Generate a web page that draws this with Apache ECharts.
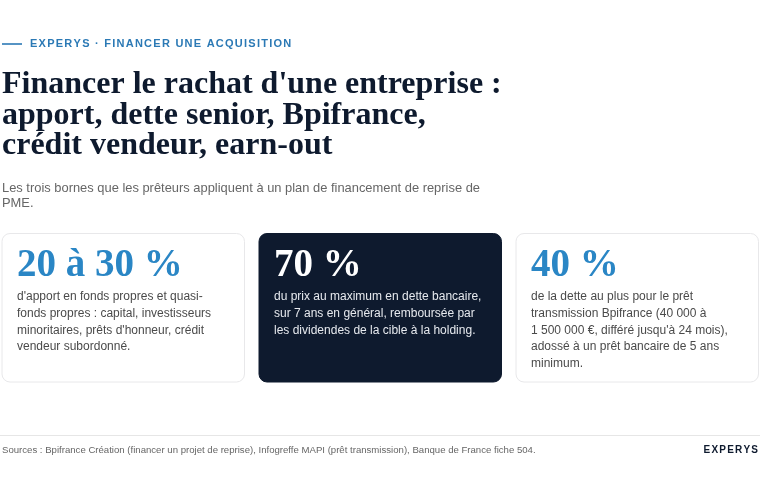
<!DOCTYPE html>
<html>
<head>
<meta charset="utf-8">
<script src="https://cdn.jsdelivr.net/npm/echarts@6/dist/echarts.min.js"></script>
<style>
  html, body { margin: 0; padding: 0; background: #fff; }
  #chart { width: 760px; height: 480px; }
</style>
</head>
<body>
<div id="chart"></div>
<script>
// contenu
const kicker = 'EXPERYS · FINANCER UNE ACQUISITION';
const titleLines = ["Financer le rachat d'une entreprise :", 'apport, dette senior, Bpifrance,', 'crédit vendeur, earn-out'];
const subtitleLines = ['Les trois bornes que les prêteurs appliquent à un plan de financement de reprise de', 'PME.'];
const figures = ['20 à 30 %', '70 %', '40 %'];
const descriptions = [
  ["d'apport en fonds propres et quasi-", 'fonds propres : capital, investisseurs', "minoritaires, prêts d'honneur, crédit", 'vendeur subordonné.'],
  ['du prix au maximum en dette bancaire,', 'sur 7 ans en général, remboursée par', 'les dividendes de la cible à la holding.'],
  ['de la dette au plus pour le prêt', 'transmission Bpifrance (40 000 à', "1 500 000 €, différé jusqu'à 24 mois),", 'adossé à un prêt bancaire de 5 ans', 'minimum.']
];
const highlighted = [false, true, false];
const sources = "Sources : Bpifrance Création (financer un projet de reprise), Infogreffe MAPI (prêt transmission), Banque de France fiche 504.";
const brand = 'EXPERYS';

const NAVY = '#0e1a2e';
const BLUE = '#2a86c5';
const SANS = '"Liberation Sans", Arial, Helvetica, sans-serif';
const SERIF = '"Liberation Serif", "Times New Roman", serif';

// mesure pour le texte espacé (pas de letterSpacing dans zrender)
const ctx = document.createElement('canvas').getContext('2d');
function spaced(text, x, y, font, fill, spacing, alignRight) {
  ctx.font = font;
  const widths = [...text].map(c => ctx.measureText(c).width);
  const total = widths.reduce((a, b) => a + b, 0) + spacing * (widths.length - 1);
  let cx = alignRight ? x - total : x;
  const out = [];
  [...text].forEach((c, i) => {
    out.push({ type: 'text', x: cx, y: y, silent: true,
      style: { text: c, font: font, fill: fill, verticalAlign: 'middle' } });
    cx += widths[i] + spacing;
  });
  return out;
}

const chart = echarts.init(document.getElementById('chart'), null, { renderer: 'canvas' });

const elements = [];
// filet + surtitre
elements.push({ type: 'line', shape: { x1: 2, y1: 44, x2: 22, y2: 44 }, style: { stroke: '#2b79b5', lineWidth: 1.6 } });
elements.push(...spaced(kicker, 30, 44, 'bold 11px ' + SANS, '#2b79b5', 1.25));

// titre
elements.push({ type: 'text', x: 2, y: 69.5, style: {
  text: titleLines.join('\n'), font: 'bold 32px ' + SERIF, fill: NAVY, lineHeight: 30.5, verticalAlign: 'top' } });

// sous-titre
elements.push({ type: 'text', x: 2, y: 180.5, style: {
  text: subtitleLines.join('\n'), font: '12.9px ' + SANS, fill: '#666', lineHeight: 15.5, verticalAlign: 'top' } });

// cartes
const cardX = [2, 259, 516];
figures.forEach((fig, i) => {
  const dark = highlighted[i];
  elements.push({ type: 'rect', shape: { x: cardX[i], y: 233.5, width: 242.5, height: 148.5, r: 8 },
    style: { fill: dark ? NAVY : '#fff', stroke: dark ? NAVY : '#e8e8ea', lineWidth: 1 } });
  elements.push({ type: 'text', x: cardX[i] + 15, y: 266, style: {
    text: fig, font: 'bold 39px ' + SERIF, fill: dark ? '#fff' : BLUE, verticalAlign: 'middle' } });
  elements.push({ type: 'text', x: cardX[i] + 15, y: 288.7, style: {
    text: descriptions[i].join('\n'), font: '12px ' + SANS, fill: dark ? '#e6e9ee' : '#4a4a4a',
    lineHeight: 16.6, verticalAlign: 'top' } });
});

// pied
elements.push({ type: 'line', shape: { x1: 0, y1: 435.5, x2: 760, y2: 435.5 }, style: { stroke: '#e6e6e6', lineWidth: 1 } });
elements.push({ type: 'text', x: 2, y: 450, style: { text: sources, font: '9.6px ' + SANS, fill: '#666', verticalAlign: 'middle' } });
elements.push(...spaced(brand, 758, 450, 'bold 10px ' + SANS, NAVY, 1.2, true));

chart.setOption({
  animation: false,
  backgroundColor: '#fff',
  graphic: { elements: elements }
});
</script>
</body>
</html>
